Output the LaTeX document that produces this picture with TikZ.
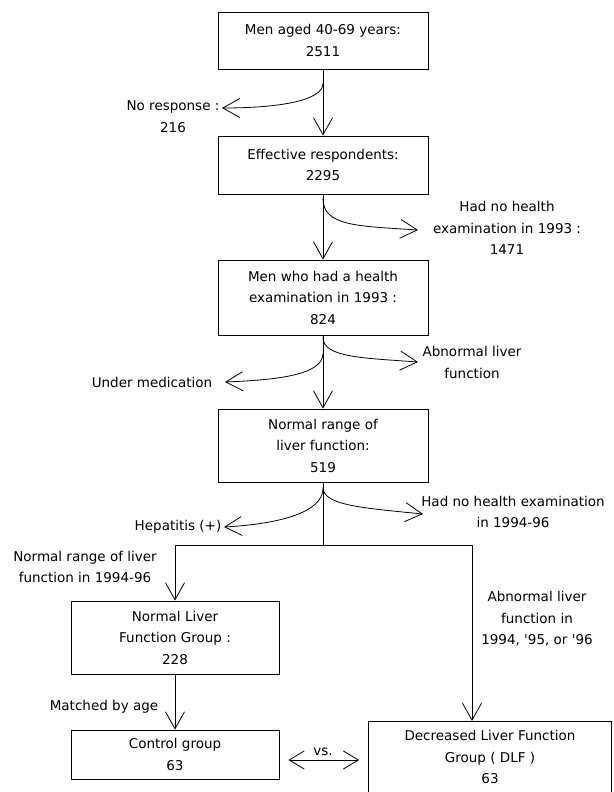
\documentclass[tikz,border=0pt]{standalone}
\usepackage{fontspec}
\setmainfont{DejaVu Sans}
\usetikzlibrary{arrows.meta,positioning,calc}

\tikzset{
  box/.style={draw, line width=0.8pt, minimum width=210pt, align=center, inner sep=0pt},
  flow/.style={line width=0.8pt, -{Straight Barb[length=17pt,width=19pt]}},
  twoway/.style={line width=0.8pt, {Straight Barb[length=15pt,width=18pt]}-{Straight Barb[length=15pt,width=18pt]}},
  lbl/.style={align=center, inner sep=0pt},
}

\begin{document}
\begin{tikzpicture}[x=1pt, y=-1pt, font=\fontsize{13.5}{21.5}\selectfont]
    \useasboundingbox (0,0) rectangle (613,792);
    % boxes
    \node[box, minimum height=57pt] (men) at (323,40.5) {Men aged 40-69 years:\\2511};
    \node[box, minimum height=58pt] (resp) at (323,165) {Effective respondents:\\2295};
    \node[box, minimum height=75pt] (exam) at (323,297.5) {Men who had a health\\examination in 1993 :\\824};
    \node[box, minimum height=73pt] (norm) at (323,445.5) {Normal range of\\liver function:\\519};
    \node[box, minimum width=208pt, minimum height=73pt] (nlf) at (175,637.5) {Normal Liver\\Function Group :\\228};
    \node[box, minimum width=208pt, minimum height=49pt] (ctrl) at (175,754.5) {Control group\\63};
    \node[box, minimum width=243pt, minimum height=72pt] (dlf) at (490,757) {Decreased Liver Function\\Group ( DLF )\\63};

    % side labels
    \node[lbl] (nores) at (173,116.5) {No response :\\216};
    \node[lbl] (noexam) at (507,228) {Had no health\\examination in 1993 :\\1471};
    \node[lbl] (abn) at (472,362.5) {Abnormal liver\\function};
    \node[lbl] (med) at (152,382) {Under medication};
    \node[lbl] (hep) at (178,527) {Hepatitis (+)};
    \node[lbl] (noexamb) at (513,512) {Had no health examination\\in 1994-96};
    \node[lbl] (normb) at (85,567) {Normal range of liver\\function in 1994-96};
    \node[lbl] (abnb) at (537,619) {Abnormal liver\\function in\\1994, \textquotesingle 95, or \textquotesingle 96};
    \node[lbl] (match) at (104,707) {Matched by age};
    \node[lbl] (vs) at (323,752) {vs.};

    % arrow tips of the exclusions
    \coordinate (nrtip) at (222,108);
    \coordinate (netip) at (418,230);
    \coordinate (abtip) at (418,362);
    \coordinate (umtip) at (225,382);
    \coordinate (hptip) at (224,527);
    \coordinate (nbtip) at (423,514);

    % main flow
    \draw[flow] (men) -- (resp);
    \draw[flow] (resp) -- (exam);
    \draw[flow] (exam) -- (norm);
    \coordinate (split) at ($(norm.south)+(0,63)$);
    \coordinate (dlfin) at (472,721);
    \draw[line width=0.8pt] (norm.south) -- (split);
    \draw[flow] (split) -| (nlf.north);
    \draw[flow] (split) -| (dlfin);
    \draw[flow] (nlf) -- (ctrl);
    \draw[twoway, shorten <=9pt, shorten >=9pt] ([yshift=-5.5pt]ctrl.east) -- ([yshift=-5.5pt]ctrl.east -| dlf.west);

    % exclusions
    \draw[flow] ($(men.south)+(0,14)$) .. controls +(0,17) and +(58,0) .. (nrtip);
    \draw[flow] ($(resp.south)+(0,4)$) .. controls +(0,28) and +(-60,-4) .. (netip);
    \draw[flow] ($(exam.south)+(0,2)$) .. controls +(0,20) and +(-55,-4) .. (abtip);
    \draw[flow] ($(exam.south)+(0,18)$) .. controls +(0,22) and +(50,-2) .. (umtip);
    \draw[flow] ($(norm.south)+(0,5)$) .. controls +(0,18) and +(-60,-6) .. (nbtip);
    \draw[flow] ($(norm.south)+(0,6)$) .. controls +(0,24) and +(55,-3) .. (hptip);
\end{tikzpicture}
\end{document}
